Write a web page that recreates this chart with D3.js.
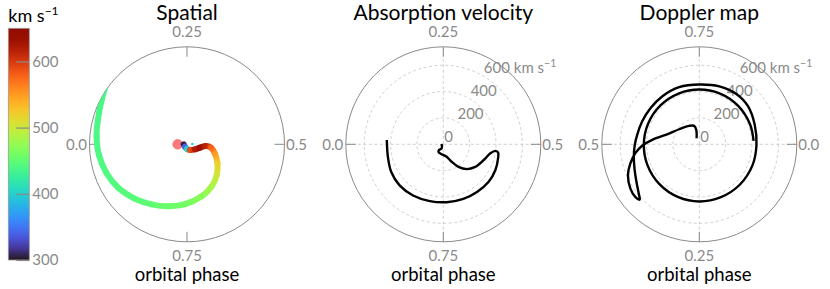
<!DOCTYPE html>
<html>
<head>
<meta charset="utf-8">
<script src="https://cdn.jsdelivr.net/npm/d3@7"></script>
<style>
body { margin: 0; background: #fff; }
svg { display: block; font-family: Lato, "Open Sans", sans-serif; }
</style>
</head>
<body>
<div id="chart"></div>
<script>
const width = 830, height = 289;

// spatial panel: spiral traced along the outflow (phase, radius as fraction of plot radius, speed km/s)
const spiralPhase  = [0.0, 0.863, 0.75, 0.672, 0.589, 0.54, 0.514, 0.522, 0.553, 0.589, 0.628, 0.665, 0.706, 0.755, 0.797, 0.835, 0.872, 0.911, 0.946, 0.981, 1.014, 1.043, 1.074, 1.098];
const spiralRadius = [0.034, 0.032, 0.048, 0.066, 0.097, 0.138, 0.193, 0.25, 0.305, 0.369, 0.44, 0.499, 0.554, 0.615, 0.664, 0.715, 0.773, 0.835, 0.878, 0.91, 0.931, 0.948, 0.983, 1.024];
const spiralVel    = [305, 340, 400, 590, 620, 635, 615, 580, 550, 520, 500, 485, 470, 460, 455, 450, 447, 444, 442, 441, 440, 439, 438, 437];

const starPhase = 0.0, starRadius = 0.096;
const dotPhase = 0.49, dotRadius = 0.055, dotVel = 400;

// absorption velocity track (phase, km/s)
const absPhase = [0.03, 0.813, 0.854, 0.837, 0.794, 0.708, 0.679, 0.656, 0.629, 0.598, 0.559, 0.53, 0.52, 0.524, 0.54, 0.573, 0.61, 0.652, 0.694, 0.741, 0.787, 0.835, 0.88, 0.923, 0.965, 1.012];
const absVel   = [13, 33, 55, 69, 74, 98, 147, 206, 260, 297, 329, 364, 399, 421, 429, 441, 447, 443, 441, 440, 443, 451, 455, 447, 431, 430];

// doppler map track (phase, km/s)
const dopPhase = [0.683, 0.717, 0.707, 0.67, 0.602, 0.543, 0.515, 0.496, 0.478, 0.457, 0.435, 0.409, 0.39, 0.381, 0.391, 0.414, 0.443, 0.47, 0.498, 0.524, 0.561, 0.602, 0.646, 0.696, 0.75, 0.803, 0.851, 0.895, 0.946, 1.002,
                  1.06, 1.125, 1.19, 1.25, 1.31, 1.375, 1.44, 1.5, 1.56, 1.625, 1.69, 1.75, 1.81, 1.875, 1.94, 1.99];
const dopVel   = [50, 112, 145, 160, 191, 265, 359, 434, 490, 543, 590, 622, 629, 617, 593, 556, 525, 506, 490, 477, 467, 461, 460, 460, 454, 465, 474, 469, 446, 434,
                  434, 434, 434, 434, 432, 428, 424, 421, 419, 417, 416, 416, 416, 415, 414, 413];

const panelTitles = ["Spatial", "Absorption velocity", "Doppler map"];
// theta tick labels: top, right, bottom, left
const thetaLabels = [
    ["0.25", "0.5", "0.75", "0.0"],
    ["0.25", "0.5", "0.75", "0.0"],
    ["0.75", "0.0", "0.25", "0.5"]
];
const radialTicks = [0, 200, 400, 600];
const cbTicks = [300, 400, 500, 600];
const cbDomain = [300, 650];
const velMax = 740; // km/s at the rim

const grey = "#8a8a8a",
    panelCx = [187, 443.3, 699.3],
    cy = 144.3,
    R = 97.5;

const svg = d3.select("#chart")
    .append("svg")
    .attr("width", width)
    .attr("height", height);

const defs = svg.append("defs");
const color = d3.scaleSequential(d3.interpolateTurbo).domain(cbDomain);

// angle scales (d3 convention: 0 = up, clockwise)
const angleLeft = d3.scaleLinear().domain([0, 1]).range([-Math.PI / 2, 1.5 * Math.PI]);
const angleRight = d3.scaleLinear().domain([0, 1]).range([Math.PI / 2, 2.5 * Math.PI]);

const rSpatial = d3.scaleLinear().domain([0, 1]).range([0, R]);
const rVel = d3.scaleLinear().domain([0, velMax]).range([0, R]);

panelCx.forEach((cx, i) => {
    let g = svg.append("g").attr("transform", `translate(${cx},${cy})`);

    // dashed grid for the velocity panels
    if (i > 0) {
        g.selectAll("circle.grid")
            .data(radialTicks.filter(d => d > 0))
            .join("circle")
            .attr("r", d => rVel(d))
            .attr("fill", "none")
            .attr("stroke", "#c4c4c4")
            .attr("stroke-width", 0.8)
            .attr("stroke-dasharray", "3,2.5");
        g.selectAll("line.grid")
            .data([0, 90, 180, 270])
            .join("line")
            .attr("x2", d => R * Math.cos(d * Math.PI / 180))
            .attr("y2", d => R * Math.sin(d * Math.PI / 180))
            .attr("stroke", "#c4c4c4")
            .attr("stroke-width", 0.8)
            .attr("stroke-dasharray", "3,2.5");
    }

    // outer rim
    g.append("circle")
        .attr("r", R)
        .attr("fill", "none")
        .attr("stroke", grey)
        .attr("stroke-width", 1);

    // inward ticks
    g.selectAll("line.tick")
        .data([0, 90, 180, 270])
        .join("line")
        .attr("x1", d => (R - 10) * Math.cos(d * Math.PI / 180))
        .attr("y1", d => (R - 10) * Math.sin(d * Math.PI / 180))
        .attr("x2", d => R * Math.cos(d * Math.PI / 180))
        .attr("y2", d => R * Math.sin(d * Math.PI / 180))
        .attr("stroke", grey)
        .attr("stroke-width", 1);

    // theta labels
    let lab = thetaLabels[i];
    let tl = g.append("g")
        .attr("fill", grey)
        .attr("font-size", 15);
    tl.append("text").attr("x", 0).attr("y", -R - 9.5).attr("text-anchor", "middle").text(lab[0]);
    tl.append("text").attr("x", R + 1.5).attr("y", 5.3).attr("text-anchor", "start").text(lab[1]);
    tl.append("text").attr("x", 0).attr("y", R + 19.5).attr("text-anchor", "middle").text(lab[2]);
    tl.append("text").attr("x", -R - 2.5).attr("y", 5.3).attr("text-anchor", "end").text(lab[3]);

    // radial labels at 60 deg
    if (i > 0) {
        let rl = g.selectAll("text.rlab")
            .data(radialTicks)
            .join("text")
            .attr("x", d => rVel(d) * 0.5 + 1)
            .attr("y", d => -rVel(d) * 0.866 - 2.5)
            .attr("fill", grey)
            .attr("font-size", 15)
            .text(d => d === 600 ? "600 km s" : d);
        rl.filter(d => d === 600)
            .append("tspan")
            .attr("dy", -6)
            .attr("font-size", 10.5)
            .text("\u22121");
    }

    // title and axis label
    g.append("text")
        .attr("y", 20 - cy)
        .attr("text-anchor", "middle")
        .attr("font-size", 21)
        .text(panelTitles[i]);
    g.append("text")
        .attr("y", 281 - cy)
        .attr("text-anchor", "middle")
        .attr("font-size", 18.5)
        .text("orbital phase");
});

// ---- spatial panel marks
let g1 = svg.append("g").attr("transform", `translate(${panelCx[0]},${cy})`);
defs.append("clipPath").attr("id", "rim")
    .append("circle").attr("r", R);

let starXY = d3.pointRadial(angleLeft(starPhase), rSpatial(starRadius));
g1.append("circle")
    .attr("cx", starXY[0]).attr("cy", starXY[1])
    .attr("r", 4.8)
    .attr("fill", "#ff4f4f")
    .attr("fill-opacity", 0.75)
    .attr("stroke", "#e85a5a")
    .attr("stroke-width", 0.6);

let spiral = g1.append("g").attr("clip-path", "url(#rim)");

let spiralPts = spiralPhase.map((p, k) => {
    let xy = d3.pointRadial(angleLeft(p), rSpatial(spiralRadius[k]));
    return {x: xy[0], y: xy[1], v: spiralVel[k]};
});

// catmull-rom piece between points k and k+1, as one cubic
function crPiece(k) {
    let n = spiralPts.length;
    let p0 = spiralPts[Math.max(k - 1, 0)],
        p1 = spiralPts[k],
        p2 = spiralPts[k + 1],
        p3 = spiralPts[Math.min(k + 2, n - 1)];
    let c1x = p1.x + (p2.x - p0.x) / 6, c1y = p1.y + (p2.y - p0.y) / 6,
        c2x = p2.x - (p3.x - p1.x) / 6, c2y = p2.y - (p3.y - p1.y) / 6;
    return `M${p1.x},${p1.y}C${c1x},${c1y},${c2x},${c2y},${p2.x},${p2.y}`;
}

let segIdx = d3.range(spiralPts.length - 1);
segIdx.forEach(k => {
    let a = spiralPts[k], b = spiralPts[k + 1];
    let grad = defs.append("linearGradient")
        .attr("id", "seg" + k)
        .attr("gradientUnits", "userSpaceOnUse")
        .attr("x1", a.x).attr("y1", a.y)
        .attr("x2", b.x).attr("y2", b.y);
    grad.append("stop").attr("offset", 0).attr("stop-color", color(a.v));
    grad.append("stop").attr("offset", 1).attr("stop-color", color(b.v));
});
spiral.selectAll("path")
    .data(segIdx)
    .join("path")
    .attr("d", k => crPiece(k))
    .attr("fill", "none")
    .attr("stroke", k => `url(#seg${k})`)
    .attr("stroke-width", 6)
    .attr("stroke-linecap", "round");

let dotXY = d3.pointRadial(angleLeft(dotPhase), rSpatial(dotRadius));
g1.append("circle")
    .attr("cx", dotXY[0]).attr("cy", dotXY[1])
    .attr("r", 1.3)
    .attr("fill", color(dotVel));

// ---- velocity tracks
const radialLine = (angle) => d3.lineRadial()
    .angle(d => angle(d[0]))
    .radius(d => rVel(d[1]))
    .curve(d3.curveCatmullRom.alpha(0.5));

svg.append("g")
    .attr("transform", `translate(${panelCx[1]},${cy})`)
    .append("path")
    .attr("d", radialLine(angleLeft)(d3.zip(absPhase, absVel)))
    .attr("fill", "none")
    .attr("stroke", "#000")
    .attr("stroke-width", 2.4)
    .attr("stroke-linejoin", "round");

svg.append("g")
    .attr("transform", `translate(${panelCx[2]},${cy})`)
    .append("path")
    .attr("d", radialLine(angleRight)(d3.zip(dopPhase, dopVel)))
    .attr("fill", "none")
    .attr("stroke", "#000")
    .attr("stroke-width", 2.4)
    .attr("stroke-linejoin", "round");

// ---- colorbar
const cbX = 8.3, cbW = 21, cbTop = 28.3, cbBottom = 260;
const cbScale = d3.scaleLinear().domain(cbDomain).range([cbBottom, cbTop]);

let cbGrad = defs.append("linearGradient")
    .attr("id", "cbgrad")
    .attr("x1", 0).attr("y1", 1)
    .attr("x2", 0).attr("y2", 0);
d3.range(0, 1.0001, 0.05).forEach(t => {
    cbGrad.append("stop")
        .attr("offset", t)
        .attr("stop-color", d3.interpolateTurbo(t));
});

svg.append("rect")
    .attr("x", cbX).attr("y", cbTop)
    .attr("width", cbW).attr("height", cbBottom - cbTop)
    .attr("fill", "url(#cbgrad)")
    .attr("stroke", "#999")
    .attr("stroke-width", 0.8);

let cbAxis = svg.append("g")
    .attr("transform", `translate(${cbX + cbW},0)`)
    .call(d3.axisRight(cbScale).tickValues(cbTicks).tickSize(-13).tickPadding(3).tickSizeOuter(0));
cbAxis.select(".domain").remove();
cbAxis.selectAll("line").attr("stroke", grey).attr("stroke-width", 1.2);
cbAxis.selectAll("text")
    .attr("fill", grey)
    .attr("font-size", 15)
    .attr("font-family", "Lato, sans-serif");

let cbLabel = svg.append("text")
    .attr("x", cbX)
    .attr("y", 21.7)
    .attr("font-size", 18)
    .text("km s");
cbLabel.append("tspan")
    .attr("dy", -7)
    .attr("font-size", 12)
    .text("\u22121");
</script>
</body>
</html>
